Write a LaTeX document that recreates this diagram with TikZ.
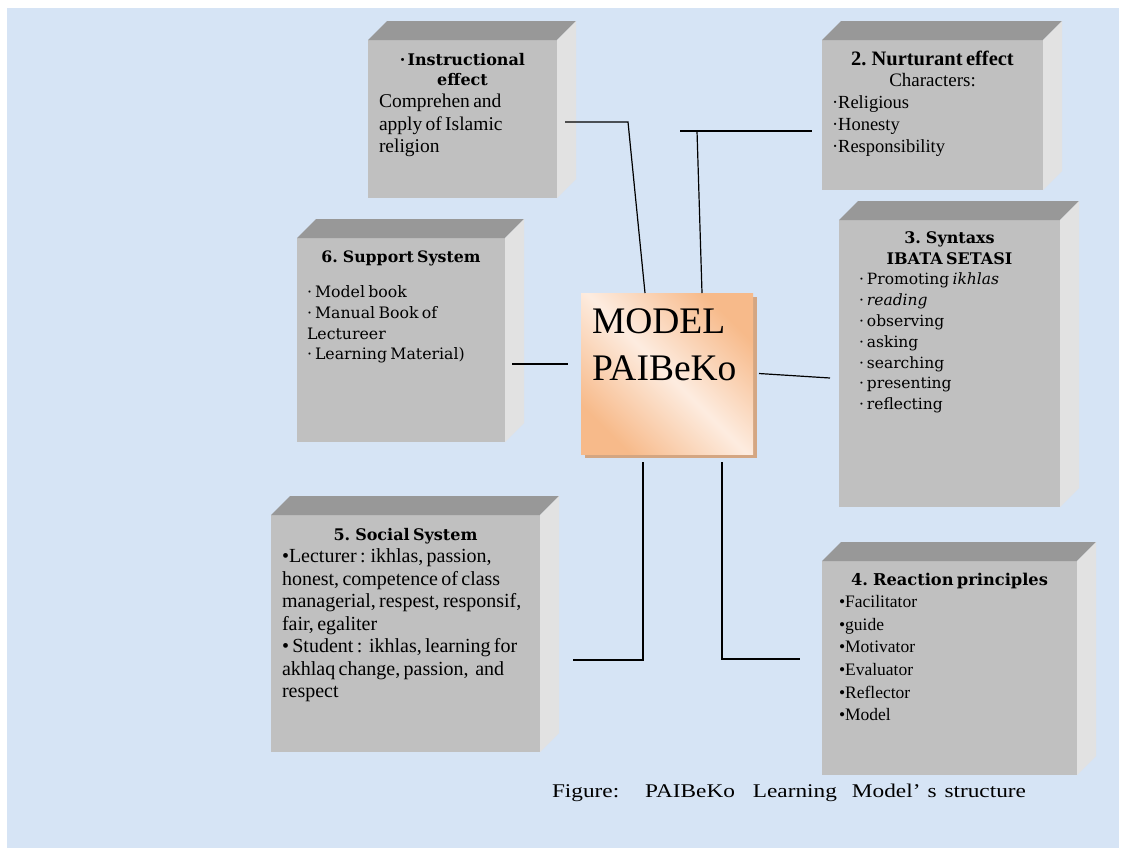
\documentclass[tikz,border=0pt]{standalone}
\usepackage{fontspec}
\newfontfamily\tnr{Liberation Serif}
\newfontfamily\tnrwide[FakeStretch=1.2]{Liberation Serif}
\newfontfamily\sch{DejaVu Serif}
\usetikzlibrary{shadows}
\definecolor{paper}{RGB}{214,228,245}
\definecolor{frontgray}{RGB}{192,192,192}
\definecolor{topgray}{RGB}{152,152,152}
\definecolor{sidegray}{RGB}{226,226,226}
\definecolor{peach}{RGB}{247,186,138}
\definecolor{peachlight}{RGB}{253,236,224}
\definecolor{peachshadow}{RGB}{212,166,130}

\begin{document}
\begin{tikzpicture}[x=1pt,y=1pt,
  front/.style={fill=frontgray,inner sep=0,outer sep=0,anchor=north west},
  topface/.style={fill=topgray},
  sideface/.style={fill=sidegray},
  boxtext/.style={inner sep=0,outer sep=0,anchor=base west},
  link/.style={line width=1.2pt}]

\useasboundingbox (0,0) rectangle (1126,-855);
\fill[paper] (7,-8) rectangle (1119,-848);

% the six blocks
\node[front,minimum width=189pt,minimum height=158pt] (instr) at (368,-40) {};
\node[front,minimum width=221pt,minimum height=150pt] (nurt) at (822,-40) {};
\node[front,minimum width=208pt,minimum height=204pt] (support) at (297,-238) {};
\node[front,minimum width=221pt,minimum height=287pt] (syntax) at (839,-220) {};
\node[front,minimum width=269pt,minimum height=237pt] (social) at (271,-515) {};
\node[front,minimum width=255pt,minimum height=214pt] (react) at (822,-561) {};

\fill[topface] (instr.north west) -- ++(19,19) -- ([shift={(19,19)}]instr.north east) -- (instr.north east) -- cycle;
\fill[sideface] (instr.north east) -- ++(19,19) -- ([shift={(19,19)}]instr.south east) -- (instr.south east) -- cycle;
\fill[topface] (nurt.north west) -- ++(19,19) -- ([shift={(19,19)}]nurt.north east) -- (nurt.north east) -- cycle;
\fill[sideface] (nurt.north east) -- ++(19,19) -- ([shift={(19,19)}]nurt.south east) -- (nurt.south east) -- cycle;
\fill[topface] (support.north west) -- ++(19,19) -- ([shift={(19,19)}]support.north east) -- (support.north east) -- cycle;
\fill[sideface] (support.north east) -- ++(19,19) -- ([shift={(19,19)}]support.south east) -- (support.south east) -- cycle;
\fill[topface] (syntax.north west) -- ++(19,19) -- ([shift={(19,19)}]syntax.north east) -- (syntax.north east) -- cycle;
\fill[sideface] (syntax.north east) -- ++(19,19) -- ([shift={(19,19)}]syntax.south east) -- (syntax.south east) -- cycle;
\fill[topface] (social.north west) -- ++(19,19) -- ([shift={(19,19)}]social.north east) -- (social.north east) -- cycle;
\fill[sideface] (social.north east) -- ++(19,19) -- ([shift={(19,19)}]social.south east) -- (social.south east) -- cycle;
\fill[topface] (react.north west) -- ++(19,19) -- ([shift={(19,19)}]react.north east) -- (react.north east) -- cycle;
\fill[sideface] (react.north east) -- ++(19,19) -- ([shift={(19,19)}]react.south east) -- (react.south east) -- cycle;

% centre block
\node[anchor=north west,inner sep=0,outer sep=0,minimum width=172pt,minimum height=161pt,
  general shadow={fill=peachshadow,shadow xshift=4pt,shadow yshift=-4pt},
  top color=peach,bottom color=peach,middle color=peachlight,shading angle=-45] (model) at (581,-293) {};

% connectors
\coordinate (a1) at (565,-122);
\coordinate (a2) at (628,-122);
\draw[link] (a1) -- (a2) -- ([xshift=64pt]model.north west);
\coordinate (b1) at (680,-131);
\coordinate (b2) at (812,-131);
\coordinate (b3) at (697,-131);
\draw[link] (b1) -- (b2);
\draw[link] (b3) -- ([xshift=121pt]model.north west);
\coordinate (c1) at (512,-364);
\draw[link,shorten >=13pt] (c1) -- (c1 -| model.west);
\coordinate (d1) at (830,-378);
\draw[link] ([xshift=6pt]model.east) -- (d1);
\coordinate (e1) at (573,-660);
\draw[link] ([shift={(62,-8)}]model.south west) |- (e1);
\coordinate (f1) at (800,-659);
\draw[link] ([shift={(141,-8)}]model.south west) |- (f1);

% texts
\node[boxtext,text width=167pt] (instrtext) at ([shift={(11,-25)}]instr.north west) {%
  {\centering\sch\bfseries\fontsize{16}{20}\selectfont ·\hspace{2pt}Instructional\\effect\par}
  {\raggedright\hsize=280pt\tnr\fontsize{19.5}{22.5}\selectfont Comprehen and\\apply of Islamic\\religion\par}};
\node[boxtext,text width=201pt] (nurttext) at ([shift={(10,-25)}]nurt.north west) {%
  {\centering\tnr\fontsize{20.5}{21.75}\selectfont\bfseries 2. Nurturant effect\\\fontsize{19}{21.75}\selectfont\mdseries Characters:\par}
  {\raggedright\hsize=280pt\tnr\fontsize{18.5}{21.75}\selectfont ·Religious\\·Honesty\\·Responsibility\par}};
\node[boxtext,text width=188pt] (supporttext) at ([shift={(10,-24)}]support.north west) {%
  {\centering\sch\bfseries\fontsize{15.75}{20}\selectfont 6. Support System\par}
  \vspace{15pt}
  {\raggedright\hsize=280pt\sch\fontsize{15.75}{20.7}\selectfont ·\hspace{3pt}Model book\\·\hspace{3pt}Manual Book of\\Lectureer\\·\hspace{3pt}Learning Material)\par}};
\node[boxtext,text width=181pt] (syntaxtext) at ([shift={(20,-23)}]syntax.north west) {%
  {\centering\sch\bfseries\fontsize{16}{21}\selectfont 3. Syntaxs\\IBATA SETASI\par}
  {\raggedright\hsize=280pt\sch\fontsize{15.5}{20.8}\selectfont ·\hspace{3pt}Promoting \textit{ikhlas}\\·\hspace{3pt}\textit{reading}\\·\hspace{3pt}observing\\·\hspace{3pt}asking\\·\hspace{3pt}searching\\·\hspace{3pt}presenting\\·\hspace{3pt}reflecting\par}};
\node[boxtext,text width=247pt] (socialtext) at ([shift={(11,-25)}]social.north west) {%
  {\centering\sch\bfseries\fontsize{16}{20}\selectfont 5. Social System\par}
  {\raggedright\hsize=280pt\tnr\fontsize{20}{22.5}\selectfont •Lecturer : ikhlas, passion,\\honest, competence of class\\managerial, respest, responsif,\\fair, egaliter\\• Student :\ \ ikhlas, learning for\\akhlaq change, passion,\ \ and\\respect\par}};
\node[boxtext,text width=221pt] (reacttext) at ([shift={(17,-24)}]react.north west) {%
  {\centering\sch\bfseries\fontsize{16.25}{20}\selectfont 4. Reaction principles\par}
  {\raggedright\hsize=280pt\tnr\fontsize{17.5}{22.6}\selectfont •Facilitator\\•guide\\•Motivator\\•Evaluator\\•Reflector\\•Model\par}};
\node[boxtext,text width=165pt] (modeltext) at ([shift={(11,-40)}]model.north west) {%
  \raggedright\tnr\fontsize{37.5}{47}\selectfont MODEL\\PAIBeKo\par};
\node[boxtext] (caption) at (552,-797) {\tnrwide\fontsize{19.4}{22}\selectfont
  Figure:\hspace{26pt}PAIBeKo\hspace{18pt}Learning\hspace{15pt}Model’\hspace{7pt}s\hspace{8pt}structure};
\end{tikzpicture}
\end{document}
